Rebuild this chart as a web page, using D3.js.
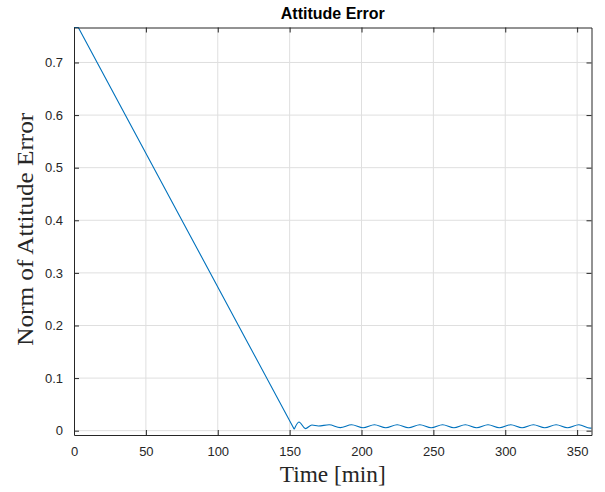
<!DOCTYPE html>
<html>
<head>
<meta charset="utf-8">
<script src="https://cdn.jsdelivr.net/npm/d3@7"></script>
<style>
  html, body { margin: 0; padding: 0; background: #fff; }
  svg { display: block; }
</style>
</head>
<body>
<svg id="chart" width="605" height="492"></svg>
<script>
// ---- data ----
// descent phase (straight ramp)
const rampTime = [0, 3, 40, 80, 120, 153.2];
const rampErr  = [0.7665, 0.7665, 0.5784, 0.3750, 0.1716, 0.0027];
// settled phase (small oscillation)
const settleTime = [
  153.2, 156.5, 161, 165.5, 170, 177.5, 185.2,
  193.1, 201.1, 209.0, 216.9, 224.8, 232.7, 240.6, 248.5,
  256.4, 264.3, 272.2, 280.1, 288.0, 295.9, 303.8, 311.7,
  319.6, 327.5, 335.4, 343.3, 351.2, 359.1, 360
];
const settleErr = [
  0.0027, 0.0165, 0.0040, 0.0108, 0.0090, 0.0112, 0.0058,
  0.0113, 0.0055, 0.0113, 0.0055, 0.0113, 0.0055, 0.0113, 0.0055,
  0.0113, 0.0055, 0.0113, 0.0055, 0.0113, 0.0055, 0.0113, 0.0055,
  0.0113, 0.0055, 0.0113, 0.0055, 0.0113, 0.0048, 0.0052
];
const xTicks = [0, 50, 100, 150, 200, 250, 300, 350];
const yTicks = [0, 0.1, 0.2, 0.3, 0.4, 0.5, 0.6, 0.7];
const xDomain = [0, 360];
const yDomain = [-0.0082, 0.7665];
const titleText = "Attitude Error";
const xLabelText = "Time [min]";
const yLabelText = "Norm of Attitude Error";

// ---- layout ----
const W = 605, H = 492;
const m = { left: 74, right: 13.5, top: 27.5, bottom: 57 };
const pw = W - m.left - m.right, ph = H - m.top - m.bottom;
const axisColor = "#262626";
const gridColor = "#dfdfdf";
const lineColor = "#0072BD";
const sansFont = "'Liberation Sans', Arial, Helvetica, sans-serif";
const serifFont = "'Liberation Serif', 'DejaVu Serif', serif";

const svg = d3.select("#chart");
const g = svg.append("g").attr("transform", `translate(${m.left},${m.top})`);

const x = d3.scaleLinear().domain(xDomain).range([0, pw]);
const y = d3.scaleLinear().domain(yDomain).range([ph, 0]);

// grid
g.append("g").selectAll("line").data(xTicks.filter(t => t > 0)).join("line")
  .attr("x1", d => x(d)).attr("x2", d => x(d)).attr("y1", 0).attr("y2", ph)
  .attr("stroke", gridColor).attr("stroke-width", 1);
g.append("g").selectAll("line").data(yTicks).join("line")
  .attr("y1", d => y(d)).attr("y2", d => y(d)).attr("x1", 0).attr("x2", pw)
  .attr("stroke", gridColor).attr("stroke-width", 1);

// data line
const rampPts = rampTime.map((t, i) => [t, rampErr[i]]);
const settlePts = settleTime.map((t, i) => [t, settleErr[i]]);
const lx = d => x(d[0]), ly = d => y(d[1]);
g.append("path").datum(rampPts)
  .attr("fill", "none").attr("stroke", lineColor).attr("stroke-width", 1.1)
  .attr("stroke-linejoin", "round")
  .attr("d", d3.line().x(lx).y(ly).curve(d3.curveLinear));
g.append("path").datum(settlePts)
  .attr("fill", "none").attr("stroke", lineColor).attr("stroke-width", 1.1)
  .attr("stroke-linejoin", "round")
  .attr("d", d3.line().x(lx).y(ly).curve(d3.curveMonotoneX));

// axes (ticks inward, mirrored)
const tickLen = 5;
const fmt = d3.format("");
const xAxisB = d3.axisBottom(x).tickValues(xTicks).tickSizeInner(-tickLen).tickSizeOuter(0).tickPadding(tickLen + 7).tickFormat(fmt);
const xAxisT = d3.axisTop(x).tickValues(xTicks).tickSizeInner(-tickLen).tickSizeOuter(0).tickFormat("");
const yAxisL = d3.axisLeft(y).tickValues(yTicks).tickSizeInner(-tickLen).tickSizeOuter(0).tickPadding(tickLen + 6).tickFormat(fmt);
const yAxisR = d3.axisRight(y).tickValues(yTicks).tickSizeInner(-tickLen).tickSizeOuter(0).tickFormat("");

function styleAxis(sel) {
  sel.select(".domain").attr("stroke", axisColor).attr("stroke-width", 1);
  sel.selectAll(".tick line").attr("stroke", axisColor).attr("stroke-width", 1);
  sel.selectAll(".tick text").attr("fill", axisColor)
    .style("font-family", sansFont).style("font-size", "13px");
}
g.append("g").attr("transform", `translate(0,${ph})`).call(xAxisB).call(styleAxis);
g.append("g").call(xAxisT).call(styleAxis);
g.append("g").call(yAxisL).call(styleAxis);
g.append("g").attr("transform", `translate(${pw},0)`).call(yAxisR).call(styleAxis);

// title
svg.append("text").attr("x", m.left + pw / 2).attr("y", 18.5)
  .attr("text-anchor", "middle").attr("fill", "#000")
  .style("font-family", sansFont).style("font-weight", "bold").style("font-size", "16px")
  .text(titleText);

// x label
svg.append("text").attr("x", m.left + pw / 2).attr("y", 481.5)
  .attr("text-anchor", "middle").attr("fill", axisColor)
  .attr("textLength", 106).attr("lengthAdjust", "spacingAndGlyphs")
  .style("font-family", serifFont).style("font-size", "23px")
  .text(xLabelText);

// y label
svg.append("text")
  .attr("transform", `translate(32.5,${m.top + ph / 2 - 2}) rotate(-90)`)
  .attr("text-anchor", "middle").attr("fill", axisColor)
  .attr("textLength", 233).attr("lengthAdjust", "spacingAndGlyphs")
  .style("font-family", serifFont).style("font-size", "23px")
  .text(yLabelText);
</script>
</body>
</html>
